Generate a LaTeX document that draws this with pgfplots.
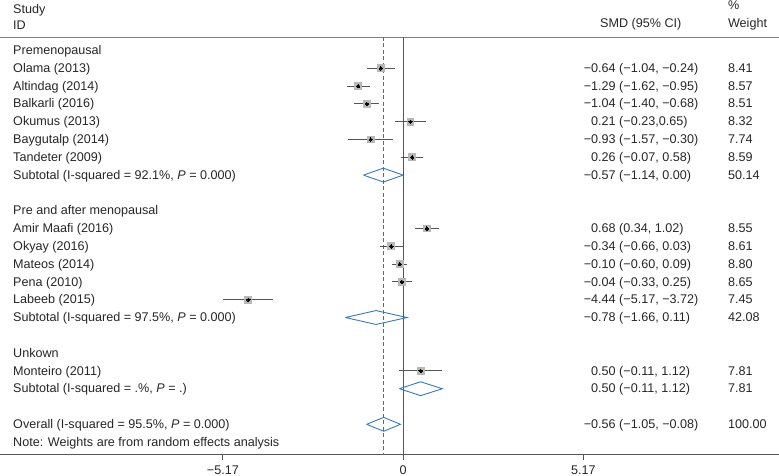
\documentclass[border=0pt]{standalone}
\usepackage{pgfplots}
\usepackage{pgfplotstable}
\pgfplotsset{compat=1.18}
\usepackage{fontspec}
\setmainfont{Liberation Sans}
\definecolor{txt}{HTML}{262626}
\definecolor{cicol}{HTML}{555555}
\definecolor{boxcol}{HTML}{B8B8B8}
\definecolor{diacol}{HTML}{3B78B8}
\definecolor{refcol}{RGB}{220,50,70}
\definecolor{rulecol}{HTML}{808080}

\pgfplotstableread{
est lo hi k w
-0.64 -1.04 -0.24 1 8.41
-1.29 -1.62 -0.95 2 8.57
-1.04 -1.40 -0.68 3 8.51
0.21 -0.23 0.65 4 8.32
-0.93 -1.57 -0.30 5 7.74
0.26 -0.07 0.58 6 8.59
0.68 0.34 1.02 10 8.55
-0.34 -0.66 0.03 11 8.61
-0.10 -0.32 0.11 12 8.80
-0.04 -0.33 0.25 13 8.65
-4.44 -5.17 -3.72 14 7.45
0.50 -0.11 1.12 18 7.81
}\studies

\begin{document}
\begin{tikzpicture}[every node/.style={font=\fontsize{12.6bp}{15bp}\selectfont, text=txt, inner sep=0pt}]
\begin{axis}[name=ax, scale only axis, width=779bp, height=476bp,
  xmin=-11.563, xmax=10.777, ymin=-2.837, ymax=23.904, y dir=reverse,
  hide axis, clip=false, unbounded coords=jump]

% rules
\addplot[color=rulecol, line width=0.9bp, mark=none] coordinates {(-11.563,-0.76) (10.777,-0.76)};
\addplot[color=cicol, line width=0.9bp, mark=none] coordinates {(-11.563,22.72) (10.777,22.72)};
\addplot[color=cicol, line width=0.9bp, mark=none] coordinates {(0,-0.76) (0,22.72)};
% ticks
\addplot[color=cicol, line width=0.9bp, mark=none] coordinates {(-5.17,22.72) (-5.17,23.0)};
\addplot[color=cicol, line width=0.9bp, mark=none] coordinates {(0,22.72) (0,23.0)};
\addplot[color=cicol, line width=0.9bp, mark=none] coordinates {(5.17,22.72) (5.17,23.0)};

% diamonds
\addplot[color=diacol, line width=0.9bp, mark=none] table {
x y
-1.14 7
-0.57 6.61
0.00 7
-0.57 7.39
-1.14 7
nan nan
-1.66 15
-0.78 14.61
0.11 15
-0.78 15.39
-1.66 15
nan nan
-0.11 19
0.50 18.61
1.12 19
0.50 19.39
-0.11 19
nan nan
-1.05 21
-0.56 20.61
-0.08 21
-0.56 21.39
-1.05 21
};

% overall reference line (pooled estimate -0.56)
\draw[draw=refcol, line width=1.1bp, dash pattern=on 4bp off 2.5bp] (axis cs:-0.56,-0.76) -- (axis cs:-0.56,22.72);

% confidence intervals
\addplot[draw=none, mark=none, error bars/.cd, x dir=both, x explicit, error mark=none,
  error bar style={draw=cicol, line width=0.9bp}]
  table[x=est, y=k, x error plus expr=\thisrow{hi}-\thisrow{est}, x error minus expr=\thisrow{est}-\thisrow{lo}] {\studies};
% boxes
\addplot[only marks, mark=square*, mark size=3.4bp, color=boxcol, mark options={fill=boxcol, draw=boxcol, line width=0pt}] table[x=est, y=k] {\studies};
% dots
\addplot[only marks, mark=*, mark size=1.7bp, color=black, mark options={fill=black, draw=black, line width=0pt}] table[x=est, y=k] {\studies};

% header
\node[anchor=base west] at (axis cs:-11.19,-2.09) {Study};
\node[anchor=base west] at (axis cs:-11.19,-1.19) {ID};
\node[anchor=base west] at (axis cs:5.644,-1.28) {SMD (95\% CI)};
\node[anchor=base west] at (axis cs:9.31,-2.31) {\%};
\node[anchor=base west] at (axis cs:9.31,-1.28) {Weight};

% left labels
\node[anchor=base west] at (axis cs:-11.19,0.23) {Premenopausal};
\node[anchor=base west] at (axis cs:-11.19,1.23) {Olama (2013)};
\node[anchor=base west] at (axis cs:-11.19,2.23) {Altindag (2014)};
\node[anchor=base west] at (axis cs:-11.19,3.23) {Balkarli (2016)};
\node[anchor=base west] at (axis cs:-11.19,4.23) {Okumus (2013)};
\node[anchor=base west] at (axis cs:-11.19,5.23) {Baygutalp (2014)};
\node[anchor=base west] at (axis cs:-11.19,6.23) {Tandeter (2009)};
\node[anchor=base west] at (axis cs:-11.19,7.23) {Subtotal (I-squared = 92.1\%, \textit{P} = 0.000)};
\node[anchor=base west] at (axis cs:-11.19,9.23) {Pre and after menopausal};
\node[anchor=base west] at (axis cs:-11.19,10.23) {Amir Maafi (2016)};
\node[anchor=base west] at (axis cs:-11.19,11.23) {Okyay (2016)};
\node[anchor=base west] at (axis cs:-11.19,12.23) {Mateos (2014)};
\node[anchor=base west] at (axis cs:-11.19,13.23) {Pena (2010)};
\node[anchor=base west] at (axis cs:-11.19,14.23) {Labeeb (2015)};
\node[anchor=base west] at (axis cs:-11.19,15.23) {Subtotal (I-squared = 97.5\%, \textit{P} = 0.000)};
\node[anchor=base west] at (axis cs:-11.19,17.23) {Unkown};
\node[anchor=base west] at (axis cs:-11.19,18.23) {Monteiro (2011)};
\node[anchor=base west] at (axis cs:-11.19,19.23) {Subtotal (I-squared = .\%, \textit{P} = .)};
\node[anchor=base west] at (axis cs:-11.19,21.23) {Overall (I-squared = 95.5\%, \textit{P} = 0.000)};
\node[anchor=base west] at (axis cs:-11.19,22.23) {Note: Weights are from random effects analysis};

% SMD column
\node[anchor=base west] at (axis cs:5.386,1.23) {\llap{−}0.64 (−1.04, −0.24)};
\node[anchor=base west] at (axis cs:5.386,2.23) {\llap{−}1.29 (−1.62, −0.95)};
\node[anchor=base west] at (axis cs:5.386,3.23) {\llap{−}1.04 (−1.40, −0.68)};
\node[anchor=base west] at (axis cs:5.386,4.23) {0.21 (−0.23,0.65)};
\node[anchor=base west] at (axis cs:5.386,5.23) {\llap{−}0.93 (−1.57, −0.30)};
\node[anchor=base west] at (axis cs:5.386,6.23) {0.26 (−0.07, 0.58)};
\node[anchor=base west] at (axis cs:5.386,7.23) {\llap{−}0.57 (−1.14, 0.00)};
\node[anchor=base west] at (axis cs:5.386,10.23) {0.68 (0.34, 1.02)};
\node[anchor=base west] at (axis cs:5.386,11.23) {\llap{−}0.34 (−0.66, 0.03)};
\node[anchor=base west] at (axis cs:5.386,12.23) {\llap{−}0.10 (−0.60, 0.09)};
\node[anchor=base west] at (axis cs:5.386,13.23) {\llap{−}0.04 (−0.33, 0.25)};
\node[anchor=base west] at (axis cs:5.386,14.23) {\llap{−}4.44 (−5.17, −3.72)};
\node[anchor=base west] at (axis cs:5.386,15.23) {\llap{−}0.78 (−1.66, 0.11)};
\node[anchor=base west] at (axis cs:5.386,18.23) {0.50 (−0.11, 1.12)};
\node[anchor=base west] at (axis cs:5.386,19.23) {0.50 (−0.11, 1.12)};
\node[anchor=base west] at (axis cs:5.386,21.23) {\llap{−}0.56 (−1.05, −0.08)};

% weight column
\node[anchor=base west] at (axis cs:9.31,1.23) {8.41};
\node[anchor=base west] at (axis cs:9.31,2.23) {8.57};
\node[anchor=base west] at (axis cs:9.31,3.23) {8.51};
\node[anchor=base west] at (axis cs:9.31,4.23) {8.32};
\node[anchor=base west] at (axis cs:9.31,5.23) {7.74};
\node[anchor=base west] at (axis cs:9.31,6.23) {8.59};
\node[anchor=base west] at (axis cs:9.31,7.23) {50.14};
\node[anchor=base west] at (axis cs:9.31,10.23) {8.55};
\node[anchor=base west] at (axis cs:9.31,11.23) {8.61};
\node[anchor=base west] at (axis cs:9.31,12.23) {8.80};
\node[anchor=base west] at (axis cs:9.31,13.23) {8.65};
\node[anchor=base west] at (axis cs:9.31,14.23) {7.45};
\node[anchor=base west] at (axis cs:9.31,15.23) {42.08};
\node[anchor=base west] at (axis cs:9.31,18.23) {7.81};
\node[anchor=base west] at (axis cs:9.31,19.23) {7.81};
\node[anchor=base west] at (axis cs:9.31,21.23) {100.00};

% tick labels
\node[anchor=base] at (axis cs:-5.17,23.82) {−5.17};
\node[anchor=base] at (axis cs:0,23.82) {0};
\node[anchor=base] at (axis cs:5.17,23.82) {5.17};
\end{axis}
\pgfresetboundingbox
\path[use as bounding box] (ax.south west) rectangle (ax.north east);
\end{tikzpicture}
\end{document}
